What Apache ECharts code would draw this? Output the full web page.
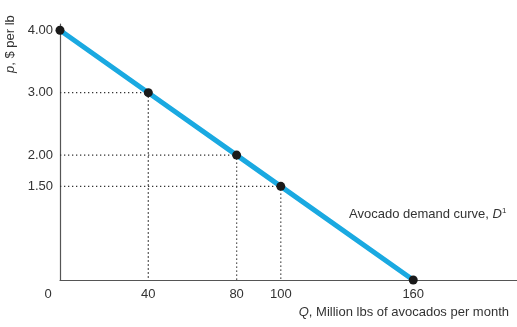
<!DOCTYPE html>
<html><head><meta charset="utf-8">
<script src="https://cdn.jsdelivr.net/npm/echarts@6/dist/echarts.min.js"></script>
<style>html,body{margin:0;padding:0;background:#fff}#c{width:517px;height:327px}</style>
</head><body><div id="c"></div>
<script>
const demandQ = [0, 40, 80, 100, 160];
const demandP = [4.00, 3.00, 2.00, 1.50, 0];
const guideQ = [40, 80, 100];
const guideP = [3.00, 2.00, 1.50];
const xTicks = [0, 40, 80, 100, 160];
const yTicks = [1.50, 2.00, 3.00, 4.00];

const font = 'Liberation Sans, Arial, Helvetica, sans-serif';
const fs = 13;
const series = [];
guideQ.forEach((q, i) => {
  series.push({
    type: 'line', silent: true, symbol: 'none',
    data: [[0, guideP[i]], [q, guideP[i]], [q, 0]],
    lineStyle: { color: '#333', width: 1.3, type: [1.3, 2.7] },
    z: 1
  });
});
series.push({
  type: 'line', symbol: 'circle', symbolSize: 9,
  data: demandQ.map((q, i) => [q, demandP[i]]),
  lineStyle: { color: '#1aa9e1', width: 5 },
  itemStyle: { color: '#1a1a1a', borderWidth: 0 },
  z: 3
});

const chart = echarts.init(document.getElementById('c'));
chart.setOption({
  animation: false,
  grid: { left: 60, right: 0, top: 24, bottom: 47 },
  xAxis: {
    type: 'value', min: 0, max: 207,
    splitLine: { show: false },
    axisLine: { lineStyle: { color: '#555', width: 1.2 } },
    axisTick: { show: false },
    axisLabel: {
      customValues: xTicks, margin: 8,
      color: '#333', fontFamily: font, fontSize: fs,
      formatter: v => v === 0 ? '{z|0}' : String(v),
      rich: { z: { padding: [0, 24, 0, 0], color: '#333', fontFamily: font, fontSize: fs } }
    }
  },
  yAxis: {
    type: 'value', min: 0, max: 4.1,
    splitLine: { show: false },
    axisLine: { show: true, lineStyle: { color: '#555', width: 1.2 } },
    axisTick: { show: false },
    axisLabel: {
      customValues: yTicks, margin: 7,
      color: '#333', fontFamily: font, fontSize: fs,
      formatter: v => v.toFixed(2)
    }
  },
  series: series,
  graphic: [
    {
      type: 'text', right: 8, top: 306,
      style: {
        text: '{i|Q}, Million lbs of avocados per month',
        fill: '#333', font: fs + 'px ' + font,
        rich: { i: { fontStyle: 'italic', fill: '#333', fontFamily: font, fontSize: fs } }
      }
    },
    {
      type: 'text', x: 10, y: 73, rotation: Math.PI / 2,
      style: {
        text: '{i|p}, $ per lb',
        fill: '#333', font: fs + 'px ' + font,
        align: 'left', verticalAlign: 'middle',
        rich: { i: { fontStyle: 'italic', fill: '#333', fontFamily: font, fontSize: fs } }
      }
    },
    {
      type: 'text', left: 349, top: 207,
      style: {
        text: 'Avocado demand curve, {i|D}{s|1}',
        fill: '#333', font: fs + 'px ' + font,
        rich: {
          i: { fontStyle: 'italic', fill: '#333', fontFamily: font, fontSize: fs },
          s: { fill: '#333', fontFamily: font, fontSize: 8, verticalAlign: 'top', padding: [0, 0, 7, 0] }
        }
      }
    }
  ]
});
</script></body></html>
